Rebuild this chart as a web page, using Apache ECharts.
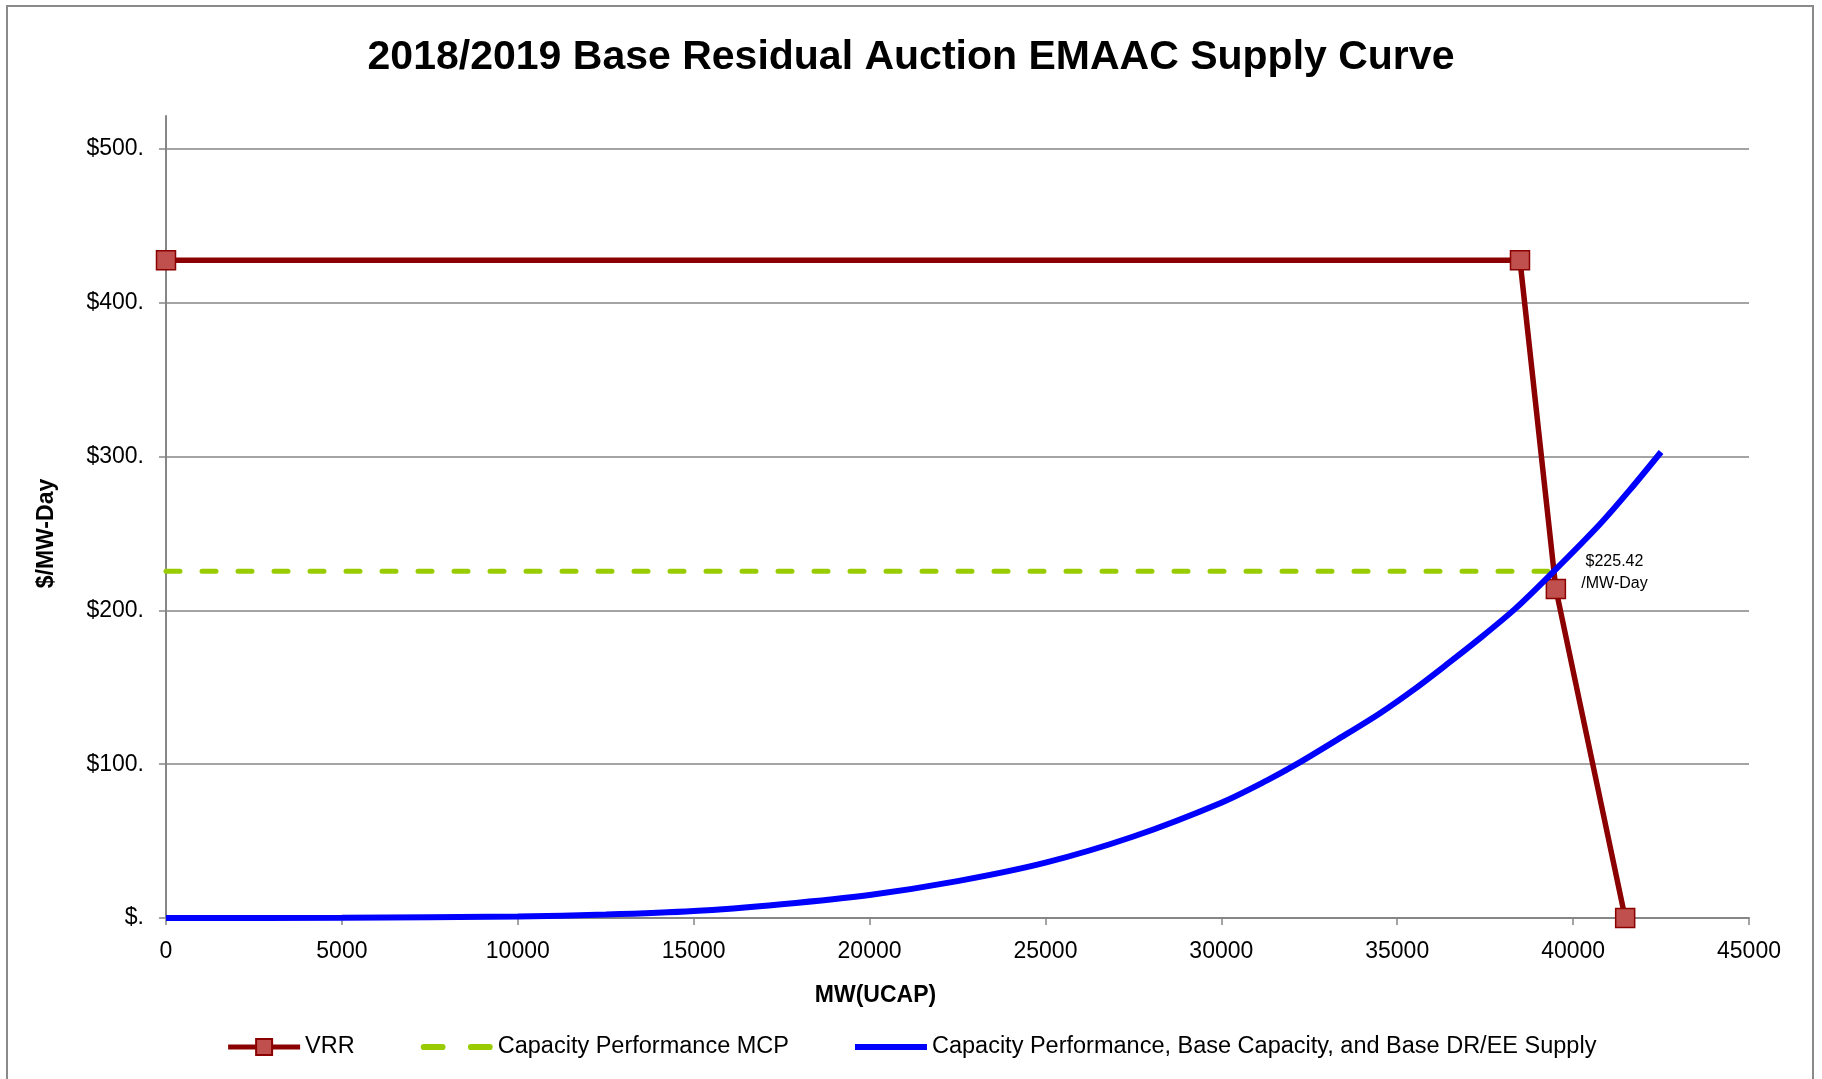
<!DOCTYPE html>
<html>
<head>
<meta charset="utf-8">
<script src="https://cdn.jsdelivr.net/npm/echarts@6/dist/echarts.min.js"></script>
<style>
html,body{margin:0;padding:0;background:#fff;}
#chart{width:1822px;height:1079px;}
</style>
</head>
<body>
<div id="chart"></div>
<script>
// ---- data ----
const titleText = '2018/2019 Base Residual Auction EMAAC Supply Curve';
const xAxisName = 'MW(UCAP)';
const yAxisName = '$/MW-Day';
const seriesNames = ['VRR', 'Capacity Performance MCP', 'Capacity Performance, Base Capacity, and Base DR/EE Supply'];

const vrrMW    = [0, 38490, 39510, 41480];
const vrrPrice = [427.6, 427.6, 213.9, 0];

const mcpMW    = [0, 39300];
const mcpPrice = 225.42;
const mcpLabelSuffix = '/MW-Day';

const supplyMW    = [0, 5000, 10000, 12500, 15000, 17500, 20000, 22500, 25000, 27500, 30000, 31300, 32140, 33300, 34500, 35500, 36500, 37250, 38350, 39450, 40760, 41600, 42500];
const supplyPrice = [0, 0.1, 1, 2.2, 4.5, 9, 15, 24, 36, 53, 75, 89.5, 100, 116, 133, 149, 166.5, 180, 201, 225.4, 256, 278, 303];

const yTickValues = [0, 100, 200, 300, 400, 500];
const yTickLabels = ['$.', '$100.', '$200.', '$300.', '$400.', '$500.'];
const xTickLabels = ['0', '5000', '10000', '15000', '20000', '25000', '30000', '35000', '40000', '45000'];

// ---- chart ----
const FONT = 'Liberation Sans';
const GREY = '#868686';
const chart = echarts.init(document.getElementById('chart'));

const zip = (a, b) => a.map((v, i) => [v, Array.isArray(b) ? b[i] : b]);

chart.setOption({
  backgroundColor: '#fff',
  animation: false,
  graphic: [{
    type: 'rect', shape: {x: 7, y: 6, width: 1806, height: 1100},
    style: {fill: 'none', stroke: '#8a8a8a', lineWidth: 2}, silent: true, z: -10
  }],
  title: {
    text: titleText, left: 'center', top: 32,
    textStyle: {fontFamily: FONT, fontWeight: 'bold', fontSize: 41, color: '#000'}
  },
  legend: {
    left: 'center', top: 1030, itemWidth: 72, itemHeight: 20, itemGap: 66,
    textStyle: {fontFamily: FONT, fontSize: 23.5, color: '#000'},
    data: [
      {name: seriesNames[0], lineStyle: {width: 5}},
      {name: seriesNames[1], icon: 'path://M2.5,0H17.5A2.5,2.5,0,0,1,17.5,5H2.5A2.5,2.5,0,0,1,2.5,0Z M40.5,0H55.5A2.5,2.5,0,0,1,55.5,5H40.5A2.5,2.5,0,0,1,40.5,0Z', itemStyle: {color: '#99CC00'}},
      {name: seriesNames[2], icon: 'path://M0,0H70V6H0Z', itemStyle: {color: '#0000FF'}}
    ]
  },
  grid: [
    {left: 166, right: 73, top: 149, bottom: 161},
    {left: 166, right: 73, top: 116, bottom: 161}
  ],
  xAxis: [{
    type: 'value', gridIndex: 0, min: 0, max: 45000, interval: 5000,
    name: xAxisName, nameLocation: 'middle', nameGap: 66,
    nameTextStyle: {fontFamily: FONT, fontWeight: 'bold', fontSize: 23, color: '#000', padding: [0, 164, 0, 0]},
    axisLine: {show: true, lineStyle: {color: GREY, width: 2}},
    axisTick: {show: true, inside: false, length: 7, lineStyle: {color: GREY, width: 1.5}},
    axisLabel: {fontFamily: FONT, fontSize: 23, color: '#000', margin: 22,
      formatter: v => xTickLabels[Math.round(v / 5000)]},
    splitLine: {show: false}
  }, {
    type: 'value', gridIndex: 1, min: 0, max: 45000, show: false
  }],
  yAxis: [{
    type: 'value', gridIndex: 0, min: 0, max: 500, interval: 100,
    name: yAxisName, nameLocation: 'middle', nameGap: 108,
    nameTextStyle: {fontFamily: FONT, fontWeight: 'bold', fontSize: 23, color: '#000'},
    axisLine: {show: true, lineStyle: {color: GREY, width: 2}},
    axisTick: {show: true, inside: false, length: 7, lineStyle: {color: GREY, width: 1.5}},
    axisLabel: {fontFamily: FONT, fontSize: 23, color: '#000', margin: 22,
      formatter: v => yTickLabels[yTickValues.indexOf(v)]},
    splitLine: {show: true, lineStyle: {color: GREY, width: 1.5}}
  }, {
    type: 'value', gridIndex: 1, min: 0, max: 1,
    axisLine: {show: true, lineStyle: {color: GREY, width: 2}},
    axisTick: {show: false}, axisLabel: {show: false}, splitLine: {show: false}
  }],
  series: [{
    name: seriesNames[0], type: 'line', z: 3,
    data: zip(vrrMW, vrrPrice),
    symbol: 'rect', symbolSize: 19,
    lineStyle: {color: '#8B0000', width: 5.5},
    itemStyle: {color: '#C0504D', borderColor: '#8B0000', borderWidth: 1.5}
  }, {
    name: seriesNames[1], type: 'line', z: 2,
    data: zip(mcpMW, mcpPrice),
    symbol: 'none',
    lineStyle: {color: '#99CC00', width: 5, type: [14, 22], cap: 'round'},
    itemStyle: {color: '#99CC00'},
    markPoint: {
      symbol: 'rect', symbolSize: 1, silent: true,
      itemStyle: {color: 'rgba(0,0,0,0)'},
      label: {show: true, position: 'inside', offset: [66, 1], align: 'center', verticalAlign: 'middle',
        fontFamily: FONT, fontSize: 16, lineHeight: 22, color: '#000',
        formatter: () => '$' + mcpPrice.toFixed(2) + '\n' + mcpLabelSuffix},
      data: [{coord: [mcpMW[1], mcpPrice]}]
    }
  }, {
    name: seriesNames[2], type: 'line', z: 4,
    data: zip(supplyMW, supplyPrice),
    symbol: 'none', smooth: 0.3,
    lineStyle: {color: '#0000FF', width: 6},
    itemStyle: {color: '#0000FF'}
  }]
});
</script>
</body>
</html>
